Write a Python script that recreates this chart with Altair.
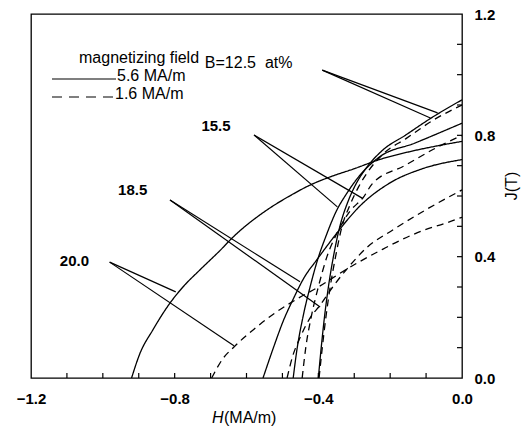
import altair as alt
import pandas as pd

# ---- demagnetization curves: H (MA/m), J (T) ----
s125_H = [-0.400, -0.392, -0.383, -0.372, -0.358, -0.340, -0.318, -0.295, -0.268, -0.222, -0.158, -0.082, 0.0]
s125_J = [0.0, 0.10, 0.20, 0.30, 0.40, 0.50, 0.58, 0.64, 0.69, 0.75, 0.80, 0.86, 0.917]
d125_H = [-0.398, -0.389, -0.379, -0.367, -0.352, -0.334, -0.312, -0.288, -0.262, -0.218, -0.155, -0.080, 0.0]
d125_J = [0.0, 0.10, 0.20, 0.30, 0.40, 0.50, 0.57, 0.63, 0.68, 0.74, 0.79, 0.85, 0.900]

s155_H = [-0.470, -0.460, -0.443, -0.423, -0.402, -0.378, -0.350, -0.320, -0.290, -0.233, -0.130, 0.0]
s155_J = [0.0, 0.09, 0.20, 0.30, 0.39, 0.47, 0.55, 0.61, 0.66, 0.726, 0.775, 0.84]
d155_H = [-0.445, -0.435, -0.420, -0.400, -0.376, -0.347, -0.312, -0.275, -0.250, -0.160, -0.070, 0.0]
d155_J = [0.0, 0.10, 0.20, 0.30, 0.40, 0.48, 0.55, 0.595, 0.64, 0.70, 0.76, 0.80]

s185_H = [-0.554, -0.525, -0.497, -0.470, -0.440, -0.404, -0.360, -0.320, -0.290, -0.205, -0.110, 0.0]
s185_J = [0.0, 0.10, 0.19, 0.26, 0.33, 0.39, 0.46, 0.52, 0.56, 0.64, 0.69, 0.72]
d185_H = [-0.487, -0.472, -0.452, -0.422, -0.395, -0.360, -0.320, -0.265, -0.190, -0.100, 0.0]
d185_J = [0.0, 0.07, 0.13, 0.20, 0.24, 0.30, 0.36, 0.43, 0.49, 0.555, 0.62]

s200_H = [-0.920, -0.897, -0.861, -0.813, -0.777, -0.730, -0.674, -0.637, -0.543, -0.480, -0.423,
          -0.367, -0.300, -0.230, -0.150, -0.070, 0.0]
s200_J = [0.0, 0.08, 0.158, 0.247, 0.30, 0.356, 0.42, 0.465, 0.554, 0.60, 0.636,
          0.663, 0.69, 0.72, 0.745, 0.765, 0.78]
d200_H = [-0.697, -0.665, -0.637, -0.580, -0.520, -0.460, -0.400, -0.340, -0.283, -0.220, -0.170, -0.100, -0.046, 0.0]
d200_J = [0.0, 0.065, 0.10, 0.16, 0.215, 0.26, 0.30, 0.345, 0.385, 0.425, 0.455, 0.49, 0.51, 0.53]

fields = ["5.6 MA/m", "1.6 MA/m"]

# ---- annotation pointers (label anchor -> two curve points) ----
ann_groups = ["12.5", "15.5", "18.5", "20.0"]
ann_start_H = [-0.389, -0.579, -0.813, -0.981]
ann_start_J = [1.015, 0.801, 0.587, 0.382]
ann_end1_H = [-0.068, -0.347, -0.451, -0.797]
ann_end1_J = [0.874, 0.564, 0.317, 0.284]
ann_end2_H = [-0.088, -0.278, -0.395, -0.635]
ann_end2_J = [0.857, 0.593, 0.234, 0.106]

label_text = ["B=12.5\u00a0\u00a0at%", "15.5", "18.5", "20.0"]
label_H = [-0.716, -0.685, -0.917, -1.079]
label_J = [1.040, 0.831, 0.620, 0.386]
label_align = ["left", "center", "center", "center"]

x_tick_labels = [-1.2, -0.8, -0.4, 0.0]
y_tick_labels = [0.0, 0.4, 0.8, 1.2]
x_minor = [-1.1, -1.0, -0.9, -0.8, -0.7, -0.6, -0.5, -0.4, -0.3, -0.2, -0.1]
y_minor = [0.1, 0.2, 0.3, 0.4, 0.5, 0.6, 0.7, 0.8, 0.9, 1.0, 1.1]

# ---- build tables ----
rows = []
for comp, f, Hs, Js in [
    ("12.5", fields[0], s125_H, s125_J), ("12.5", fields[1], d125_H, d125_J),
    ("15.5", fields[0], s155_H, s155_J), ("15.5", fields[1], d155_H, d155_J),
    ("18.5", fields[0], s185_H, s185_J), ("18.5", fields[1], d185_H, d185_J),
    ("20.0", fields[0], s200_H, s200_J), ("20.0", fields[1], d200_H, d200_J),
]:
    for i, (h, j) in enumerate(zip(Hs, Js)):
        rows.append({"curve": comp + f, "field": f, "H": h, "J": j, "i": i})
curves = pd.DataFrame(rows)

arows = []
for k, g in enumerate(ann_groups):
    for s, (eh, ej) in enumerate([(ann_end1_H[k], ann_end1_J[k]), (ann_end2_H[k], ann_end2_J[k])]):
        seg = f"{g}-{s}"
        arows.append({"seg": seg, "H": ann_start_H[k], "J": ann_start_J[k], "i": 0})
        arows.append({"seg": seg, "H": eh, "J": ej, "i": 1})
ann = pd.DataFrame(arows)

labels = pd.DataFrame({"t": label_text, "H": label_H, "J": label_J, "a": label_align})

W, H = 431, 364
FONT = "Liberation Sans"

xscale = alt.Scale(domain=[-1.2, 0.0], nice=False, zero=False)
yscale = alt.Scale(domain=[0.0, 1.2], nice=False, zero=False)

base_x = alt.X("H:Q", scale=xscale,
               axis=alt.Axis(values=x_tick_labels, format=".1f", ticks=False, domain=False,
                             grid=False, labelPadding=13, title=None,
                             labelFont=FONT, labelFontSize=15, labelFontWeight="bold",
                             labelColor="black", labelFlush=False))
base_y = alt.Y("J:Q", scale=yscale,
               axis=alt.Axis(orient="right", values=y_tick_labels, format=".1f", ticks=False,
                             domain=False, grid=False, labelPadding=12, title=None,
                             labelFont=FONT, labelFontSize=15, labelFontWeight="bold",
                             labelColor="black", labelFlush=False))

lines = alt.Chart(curves).mark_line(color="black", strokeWidth=1.3, interpolate="monotone", clip=True).encode(
    x=base_x, y=base_y,
    strokeDash=alt.StrokeDash("field:N", scale=alt.Scale(domain=fields, range=[[1, 0], [7, 5]]), legend=None),
    detail="curve:N",
    order="i:Q",
)

pointers = alt.Chart(ann).mark_line(color="black", strokeWidth=1.2).encode(
    x=alt.X("H:Q", scale=xscale), y=alt.Y("J:Q", scale=yscale), detail="seg:N", order="i:Q"
)

lab_left = alt.Chart(labels[labels["a"] == "left"]).mark_text(
    align="left", baseline="middle", font=FONT, fontSize=16, color="black"
).encode(x=alt.X("H:Q", scale=xscale), y=alt.Y("J:Q", scale=yscale), text="t:N")

lab_center = alt.Chart(labels[labels["a"] == "center"]).mark_text(
    align="center", baseline="middle", font=FONT, fontSize=15, fontWeight="bold", color="black"
).encode(x=alt.X("H:Q", scale=xscale), y=alt.Y("J:Q", scale=yscale), text="t:N")

xt = alt.Chart(pd.DataFrame({"H": x_minor})).mark_rule(color="black", strokeWidth=1.2).encode(
    x=alt.X("H:Q", scale=xscale), y=alt.value(H), y2=alt.value(H - 5))
yt = alt.Chart(pd.DataFrame({"J": y_minor})).mark_rule(color="black", strokeWidth=1.2).encode(
    y=alt.Y("J:Q", scale=yscale), x=alt.value(W), x2=alt.value(W - 5))

# legend
one = pd.DataFrame({"t": ["magnetizing field"]})
leg_title = alt.Chart(one).mark_text(align="left", baseline="middle", font=FONT, fontSize=16,
                                     color="black").encode(text="t:N", x=alt.value(48), y=alt.value(44))
leg_solid = alt.Chart(one).mark_rule(color="black", strokeWidth=1.2).encode(
    x=alt.value(21), x2=alt.value(85), y=alt.value(65))
leg_dash = alt.Chart(one).mark_rule(color="black", strokeWidth=1.2, strokeDash=[10, 7]).encode(
    x=alt.value(21), x2=alt.value(84), y=alt.value(83))
leg_t1 = alt.Chart(pd.DataFrame({"t": [fields[0]]})).mark_text(
    align="left", baseline="middle", font=FONT, fontSize=16, color="black").encode(
    text="t:N", x=alt.value(86), y=alt.value(62))
leg_t2 = alt.Chart(pd.DataFrame({"t": [fields[1]]})).mark_text(
    align="left", baseline="middle", font=FONT, fontSize=16, color="black").encode(
    text="t:N", x=alt.value(84), y=alt.value(80))

# axis titles
xt_h = alt.Chart(pd.DataFrame({"t": ["H"]})).mark_text(
    align="left", baseline="middle", font=FONT, fontSize=16, fontStyle="italic", color="black").encode(
    text="t:N", x=alt.value(181), y=alt.value(404))
xt_rest = alt.Chart(pd.DataFrame({"t": ["(MA/m)"]})).mark_text(
    align="left", baseline="middle", font=FONT, fontSize=16, color="black").encode(
    text="t:N", x=alt.value(193), y=alt.value(404))
yt_title = alt.Chart(pd.DataFrame({"t": ["J(T)"]})).mark_text(
    align="center", baseline="middle", font=FONT, fontSize=16, angle=270, color="black").encode(
    text="t:N", x=alt.value(481), y=alt.value(172))

chart = alt.layer(
    lines, pointers, lab_left, lab_center, xt, yt,
    leg_title, leg_solid, leg_dash, leg_t1, leg_t2, xt_h, xt_rest, yt_title
).properties(
    width=W, height=H,
    autosize=alt.AutoSizeParams(type="none"),
    padding={"left": 31, "top": 14, "right": 65, "bottom": 57},
    background="white",
).configure_view(stroke="black", strokeWidth=1.3)

chart.save("out.html", embed_options={"renderer": "svg", "actions": False})
